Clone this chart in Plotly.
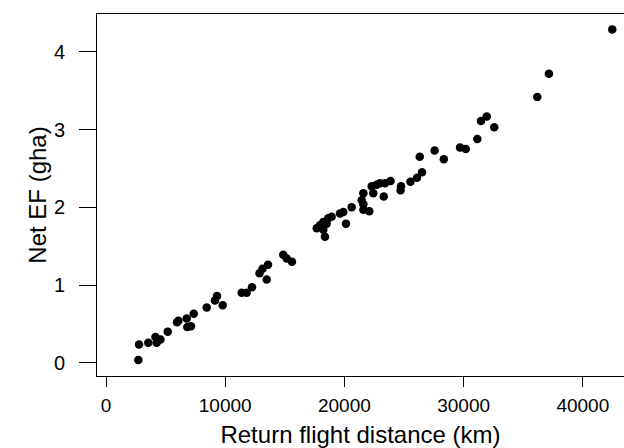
import plotly.graph_objects as go

# Return flight distance (km)
distance = [2710, 2770, 3550, 4150, 4250, 4570, 5180, 5960, 6070, 6770,
            6820, 7130, 7360, 8450, 9140, 9310, 9790, 11380, 11800, 12250,
            12880, 13130, 13480, 13590, 14870, 15160, 15600, 17680, 17950, 18230,
            18230, 18370, 18510, 18650, 18930, 19630, 19910, 20130, 20610, 21450,
            21590, 21590, 22090, 21590, 22420, 22290, 22710, 22990, 23400, 23300,
            23870, 24750, 24710, 25540, 26090, 26510, 26320, 27570, 28340, 29700,
            30180, 31150, 31460, 31940, 32570, 36180, 37160, 42470]
# Net EF (gha)
net_ef = [0.035, 0.234, 0.257, 0.33, 0.257, 0.30, 0.40, 0.52, 0.54, 0.57,
          0.46, 0.47, 0.63, 0.71, 0.80, 0.86, 0.74, 0.90, 0.90, 0.97,
          1.15, 1.21, 1.07, 1.26, 1.39, 1.34, 1.30, 1.73, 1.77, 1.71,
          1.81, 1.62, 1.79, 1.86, 1.88, 1.92, 1.94, 1.79, 2.00, 2.09,
          2.04, 1.97, 1.95, 2.18, 2.18, 2.27, 2.29, 2.31, 2.31, 2.14,
          2.34, 2.27, 2.22, 2.33, 2.38, 2.45, 2.65, 2.73, 2.62, 2.77,
          2.75, 2.88, 3.11, 3.17, 3.03, 3.42, 3.72, 4.29]

x_ticks = [0, 10000, 20000, 30000, 40000]
x_tick_labels = ["0", "10000", "20000", "30000", "40000"]
y_ticks = [0, 1, 2, 3, 4]
y_tick_labels = ["0", "1", "2", "3", "4"]

font_family = "Liberation Sans, Arial, Helvetica, sans-serif"

fig = go.Figure(go.Scatter(
    x=distance, y=net_ef, mode="markers",
    marker=dict(color="black", size=8.5, line=dict(width=0)),
    showlegend=False, cliponaxis=False,
))

fig.update_layout(
    width=624, height=448,
    margin=dict(l=97, r=0, t=14, b=72),
    paper_bgcolor="white", plot_bgcolor="white",
    font=dict(family=font_family, color="black", size=20),
)

fig.update_xaxes(
    range=[-755, 43455], tickvals=x_ticks, ticktext=x_tick_labels,
    showgrid=False, zeroline=False,
    showline=True, linecolor="black", linewidth=1, mirror=True,
    ticks="outside", ticklen=10, tickcolor="black", tickwidth=1,
    tickfont=dict(size=19), ticklabelstandoff=2,
    title=dict(text="Return flight distance (km)", font=dict(size=24), standoff=12),
    automargin=False,
)
fig.update_yaxes(
    range=[-0.171, 4.488], tickvals=y_ticks, ticktext=y_tick_labels,
    showgrid=False, zeroline=False,
    showline=True, linecolor="black", linewidth=1, mirror=False,
    ticks="outside", ticklen=17, tickcolor="black", tickwidth=1,
    tickfont=dict(size=20), ticklabelstandoff=10,
    title=dict(text="Net EF (gha)", font=dict(size=24), standoff=0),
    automargin=False,
)

fig.write_html("out.html", config={"displayModeBar": False})

# remove the default page margin so the figure sits at the window's corner
with open("out.html", "r", encoding="utf-8") as f:
    html = f.read()
html = html.replace("<body>", '<body style="margin:0;padding:0;overflow:hidden">', 1)
with open("out.html", "w", encoding="utf-8") as f:
    f.write(html)
